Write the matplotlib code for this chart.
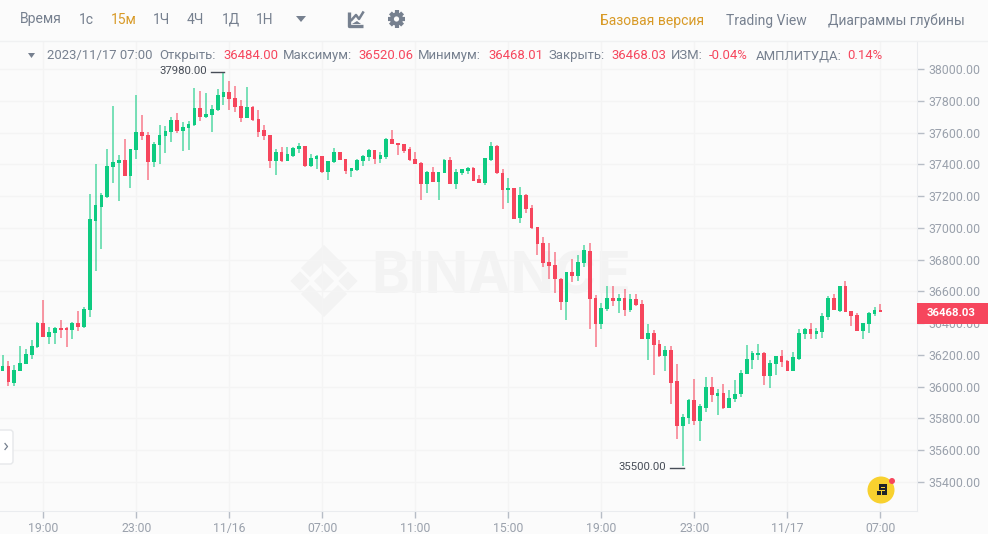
import matplotlib
matplotlib.use("Agg")
import matplotlib.pyplot as plt
from matplotlib.patches import Circle, Rectangle, Polygon, FancyBboxPatch
import numpy as np

plt.rcParams['font.family'] = ['Roboto', 'DejaVu Sans']

opens = [36100,36133,36026,36100,36146,36198,36247,36400,36314,36339,36369,36369,36358,36402,36375,36482,37045,37133,37196,37381,
         37410,37429,37326,37490,37605,37584,37412,37521,37580,37605,37679,37612,37629,37647,37755,37698,37710,37742,37826,37855,
         37818,37767,37692,37763,37685,37614,37584,37421,37477,37421,37454,37496,37515,37389,37433,37450,37354,37412,37477,37431,
         37360,37364,37419,37446,37490,37435,37448,37559,37532,37526,37494,37433,37410,37276,37351,37290,37345,37429,37276,37345,
         37358,37379,37305,37284,37427,37517,37345,37238,37251,37059,37206,37122,37003,36904,36782,36765,36681,36534,36721,36696,
         36776,36856,36560,36396,36488,36560,36539,36560,36486,36555,36520,36301,36335,36268,36192,36232,36033,35753,35802,35917,
         35783,35869,36001,35944,35963,35867,35921,35953,36083,36167,36198,36215,36068,36144,36192,36161,36098,36177,36331,36364,
         36333,36345,36438,36558,36478,36633,36474,36450,36350,36394,36457,36484]
highs = [36198,36161,36136,36255,36240,36293,36408,36549,36373,36377,36419,36373,36406,36476,36499,37211,37400,37217,37494,37767,
         37458,37559,37498,37836,37710,37605,37538,37645,37643,37696,37721,37666,37671,37878,37862,37847,37773,37872,37980,37925,
         37893,37805,37885,37767,37742,37647,37584,37494,37509,37509,37511,37534,37517,37463,37458,37452,37421,37500,37479,37433,
         37379,37433,37461,37494,37492,37475,37563,37614,37536,37528,37507,37475,37412,37358,37385,37354,37431,37444,37370,37370,
         37381,37381,37332,37440,37538,37521,37368,37311,37253,37255,37211,37146,37003,36940,36906,36849,36684,36719,36807,36828,
         36891,36906,36576,36524,36633,36633,36583,36618,36583,36583,36549,36392,36356,36297,36255,36257,36140,35831,35925,36051,
         35892,36064,36058,35988,36020,35978,36045,36104,36261,36224,36268,36217,36171,36194,36234,36171,36219,36366,36371,36400,
         36371,36461,36570,36583,36635,36665,36476,36461,36404,36469,36499,36520.06]
lows = [36098,36005,36005,36098,36144,36173,36245,36310,36266,36268,36308,36247,36301,36350,36371,36440,36728,36866,37188,37284,
        37169,37324,37251,37433,37553,37301,37385,37402,37469,37542,37595,37486,37490,37643,37673,37694,37603,37738,37776,37744,
        37731,37664,37689,37675,37574,37551,37379,37330,37416,37419,37448,37469,37385,37385,37370,37345,37301,37410,37425,37341,
        37322,37360,37389,37421,37404,37406,37435,37528,37461,37469,37423,37402,37175,37217,37288,37175,37343,37274,37242,37335,
        37337,37295,37282,37269,37419,37341,37116,37156,37053,37032,37095,36994,36828,36755,36675,36591,36482,36419,36660,36667,
        36755,36362,36251,36364,36478,36509,36461,36446,36471,36507,36299,36167,36072,36188,36100,35894,35673,35500,35766,35757,
        35659,35841,35904,35820,35862,35865,35904,35936,36079,36112,36167,36009,35995,36075,36125,36096,36096,36171,36303,36303,
        36299,36306,36419,36480,36471,36469,36385,36348,36303,36339,36444,36468.01]
closes = [36129,36028,36108,36152,36205,36255,36400,36314,36345,36369,36354,36356,36402,36375,36488,37053,37141,37209,37387,37416,
          37429,37326,37496,37605,37576,37412,37528,37584,37612,37679,37612,37635,37654,37755,37698,37717,37746,37834,37855,37813,
          37761,37689,37763,37677,37605,37580,37423,37477,37419,37463,37505,37517,37389,37440,37452,37351,37419,37477,37427,37358,
          37374,37427,37454,37492,37435,37458,37561,37530,37521,37484,37427,37404,37276,37354,37290,37351,37427,37276,37351,37368,
          37379,37297,37284,37437,37515,37343,37240,37248,37057,37206,37120,36996,36898,36776,36761,36677,36534,36719,36698,36782,
          36858,36553,36396,36497,36560,36539,36560,36486,36555,36513,36301,36335,36261,36192,36230,36026,35753,35808,35919,35783,
          35877,36001,35946,35963,35867,35932,35957,36089,36173,36211,36213,36068,36148,36192,36154,36098,36184,36339,36364,36333,
          36350,36444,36558,36482,36633,36471,36442,36350,36400,36467,36482,36468.03]

y_ticks = [38000,37800,37600,37400,37200,37000,36800,36600,36400,36200,36000,35800,35600,35400]
x_tick_pos = [7,23,39,55,71,87,103,119,135,151]
x_tick_labels = ['19:00','23:00','11/16','07:00','11:00','15:00','19:00','23:00','11/17','07:00']

menu_items = ['Время','1с','15м','1Ч','4Ч','1Д','1Н']
view_items = ['Базовая версия','Trading View','Диаграммы глубины']

GREEN, RED = '#0ecb81', '#f6465d'
BG, GRID = '#fbfbfb', '#f4f4f4'
GREY, TICK = '#76808f', '#9aa1ac'

W, H = 988, 534
fig = plt.figure(figsize=(W/100, H/100), dpi=100, facecolor=BG)

def px_overlay(z):
    a = fig.add_axes([0, 0, 1, 1], zorder=z)
    a.set_xlim(0, W); a.set_ylim(H, 0); a.axis('off'); a.patch.set_alpha(0)
    return a

back = px_overlay(0)
# watermark
wm = '#f3f3f3'
top_chev = [(324,245),(347,268),(338,277),(324,263),(310,277),(301,268)]
back.add_patch(Polygon(top_chev, fc=wm, ec='none'))
back.add_patch(Polygon([(x, 562-y) for x, y in top_chev], fc=wm, ec='none'))
for cx, r in [(324,10),(300,9.5),(348,9.5)]:
    back.add_patch(Polygon([(cx-r,281),(cx,281-r),(cx+r,281),(cx,281+r)], fc=wm, ec='none'))
back.text(371, 279, 'BINANCE', fontsize=41, fontweight='bold', color=wm, va='center', ha='left', family='Inter')

ax = fig.add_axes([0, (H-511)/H, 917/W, (511-41)/H], zorder=1)
ax.patch.set_alpha(0)
idx = np.arange(len(opens))
o, h, l, c = map(np.array, (opens, highs, lows, closes))
cols = np.where(c >= o, GREEN, RED)
ax.vlines(idx, l, h, colors=list(cols), linewidth=1.3, alpha=0.6, zorder=2)
ax.bar(idx, np.abs(c-o), bottom=np.minimum(o, c), width=0.64, color=list(cols), linewidth=0, zorder=3)

ax.set_xlim(-0.447, 157.3)
ax.set_ylim(35217.6, 38176.3)
ax.yaxis.tick_right()
ax.set_yticks(y_ticks, [f'{v:.2f}' for v in y_ticks])
ax.set_xticks(x_tick_pos, x_tick_labels)
ax.grid(True, color=GRID, linewidth=1)
ax.set_axisbelow(True)
ax.tick_params(axis='y', length=5, width=1, color='#b7bdc6', labelcolor=TICK, labelsize=8.9, pad=3)
ax.tick_params(axis='x', length=5, width=1, color='#b7bdc6', labelcolor=TICK, labelsize=8.8, pad=3)
for s in ['top', 'left']:
    ax.spines[s].set_visible(False)
for s in ['right', 'bottom']:
    ax.spines[s].set_color('#eaecef')

front = px_overlay(2)
# toolbar
for x, t in zip([20, 79, 111, 153, 187, 222, 256], menu_items):
    front.text(x, 19.5, t, fontsize=10, color='#d89a27' if t == '15м' else GREY, va='center', ha='left')
front.add_patch(Polygon([(296,16),(306,16),(301,22)], fc=GREY, ec='none'))
# chart icon
front.plot([348.5,348.5,363], [12,25.5,25.5], color=GREY, lw=2.4, solid_capstyle='butt')
front.plot([351.5,356,359,363], [20,15,19,12.5], color=GREY, lw=1.8)
front.add_patch(Polygon([(352,24),(361,24),(357,21)], fc=GREY, ec='none'))
# gear
for ang in np.arange(8) * np.pi / 4:
    front.plot([396.5 + 5*np.cos(ang), 396.5 + 8.6*np.cos(ang)],
               [19 + 5*np.sin(ang), 19 + 8.6*np.sin(ang)],
               color=GREY, lw=3, solid_capstyle='butt')
front.add_patch(Circle((396.5,19), 6.6, fc=GREY, ec='none'))
front.add_patch(Circle((396.5,19), 2.6, fc=BG, ec='none'))
for x, t, col in zip([600, 726, 828], view_items, ['#d89a27', GREY, GREY]):
    front.text(x, 20.5, t, fontsize=10, color=col, va='center', ha='left')
front.plot([0, W], [41, 41], color='#f0f1f2', lw=1)

# info row
front.add_patch(Polygon([(28,53),(35,53),(31.5,58)], fc=GREY, ec='none'))
row = [(47,'2023/11/17 07:00',GREY),(159,'Открыть:',GREY),(223,'36484.00',RED),(283,'Максимум:',GREY),
       (358,'36520.06',RED),(418,'Минимум:',GREY),(488,'36468.01',RED),(548,'Закрыть:',GREY),
       (611,'36468.03',RED),(671,'ИЗМ:',GREY),(709,'-0.04%',RED),(756,'АМПЛИТУДА:',GREY),(847,'0.14%',RED)]
for x, t, col in row:
    front.text(x, 55.5, t, fontsize=9.45, color=col, va='center', ha='left')

# high / low labels
front.text(207, 71, '37980.00', fontsize=8.2, color='#474d57', va='center', ha='right')
front.plot([211, 224], [71.5, 71.5], color='#474d57', lw=1)
front.text(666, 467, '35500.00', fontsize=8.2, color='#474d57', va='center', ha='right')
front.plot([670, 684], [468, 468], color='#474d57', lw=1)

# last price tag
front.add_patch(Rectangle((917, 303), 71, 21, fc=RED, ec='none'))
front.text(951, 313.5, '36468.03', fontsize=8.2, fontweight='bold', color='white', va='center', ha='center')

# side tab
front.add_patch(FancyBboxPatch((-4, 430), 17, 34, boxstyle='round,pad=0,rounding_size=3', fc='white', ec='#e6e8ea', lw=1))
front.plot([5,7.5,5], [443.5,446.5,449.5], color='#76808f', lw=0.9)

# help bubble
front.add_patch(Circle((881, 490), 13.5, fc='#f8d12f', ec='none'))
front.add_patch(Rectangle((879, 484), 8, 11, fc='#1e2329', ec='none'))
front.add_patch(Rectangle((881, 486.5), 4, 1.2, fc='#f8d12f', ec='none'))
front.add_patch(Rectangle((881, 489.5), 4, 1.2, fc='#f8d12f', ec='none'))
front.add_patch(Rectangle((875.5, 489.5), 5.5, 5.5, fc='#1e2329', ec='#f8d12f', lw=0.7))
front.add_patch(Circle((892, 481), 3, fc=RED, ec='none'))

fig.savefig('out.png', dpi=100, facecolor=BG)
